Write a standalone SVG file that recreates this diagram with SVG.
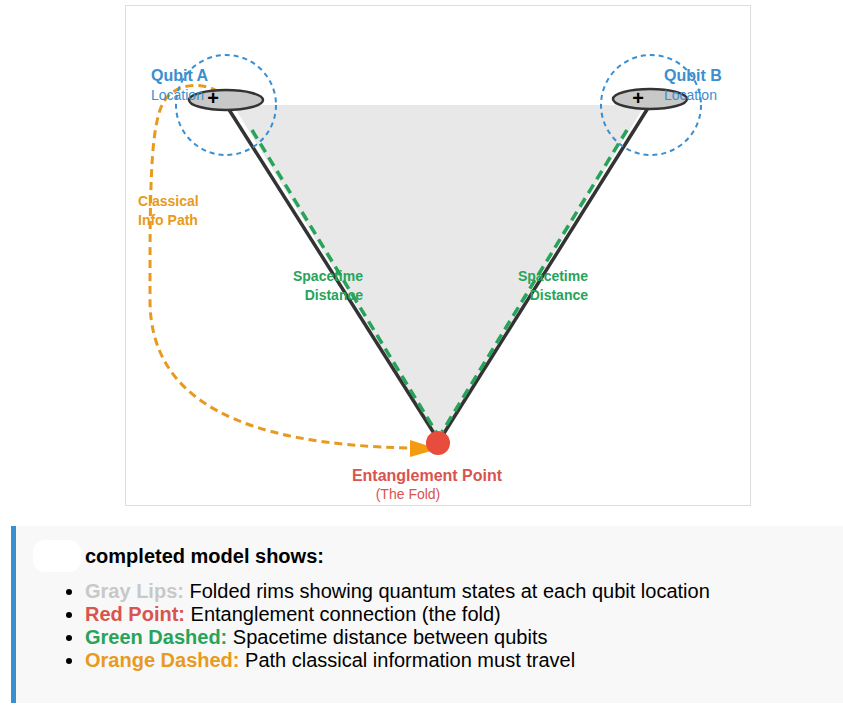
<svg xmlns="http://www.w3.org/2000/svg" width="843" height="724" viewBox="0 0 843 724">
<style>
text{font-family:"Liberation Sans",Arial,sans-serif}
.blue{fill:#3a8fd0}.or{fill:#e89a20;font-weight:bold;font-size:14px}.gr{fill:#27a35a;font-weight:bold;font-size:14px}
.rim{fill:#c8c8c8;stroke:#333;stroke-width:2.5}
.ring{fill:none;stroke:#3a8fd0;stroke-width:2;stroke-dasharray:5,4}
.edge{stroke:#333;stroke-width:3.5;fill:none}
.gd{stroke:#27a35a;stroke-width:3.5;stroke-dasharray:10,6;fill:none}
.li{font-size:20px;fill:#000}
</style>
<rect x="0" y="0" width="843" height="724" fill="#fff"/>
<rect x="125.5" y="5.5" width="625" height="500" fill="#fff" stroke="#ddd"/>
<polygon points="233,105 645,105 439,440" fill="#e8e8e8"/>
<g id="connectors">
<line class="edge" x1="228" y1="108" x2="437" y2="438"/>
<line class="edge" x1="648" y1="108" x2="441" y2="438"/>
<line class="gd" x1="252" y1="130" x2="436" y2="432"/>
<line class="gd" x1="627" y1="130" x2="442" y2="432"/>
<path d="M218,92 C205,82 170,80 160,110 C150,140 150,200 150,300 C150,400 240,445 412,448" fill="none" stroke="#e89a20" stroke-width="3" stroke-dasharray="8,5"/>
<polygon points="410,440 438,449 410,457" fill="#f39c12"/>
</g>
<g id="qubitA">
<circle class="ring" cx="226" cy="105" r="50"/>
<ellipse class="rim" cx="226" cy="100" rx="37" ry="10"/>
<text x="213" y="105" font-size="20" font-weight="bold" text-anchor="middle">+</text>
<text class="blue" x="151" y="81" font-size="16" font-weight="bold">Qubit A</text>
<text class="blue" x="151" y="100" font-size="14">Location</text>
</g>
<g id="qubitB">
<circle class="ring" cx="651" cy="105" r="50"/>
<ellipse class="rim" cx="650" cy="99" rx="37" ry="10"/>
<text x="638" y="105" font-size="20" font-weight="bold" text-anchor="middle">+</text>
<text class="blue" x="664" y="81" font-size="16" font-weight="bold">Qubit B</text>
<text class="blue" x="664" y="100" font-size="14">Location</text>
</g>
<g id="labels">
<text class="or" x="138" y="206">Classical</text>
<text class="or" x="138" y="225">Info Path</text>
<text class="gr" x="363" y="281" text-anchor="end">Spacetime</text>
<text class="gr" x="363" y="300" text-anchor="end">Distance</text>
<text class="gr" x="588" y="281" text-anchor="end">Spacetime</text>
<text class="gr" x="588" y="300" text-anchor="end">Distance</text>
</g>
<g id="entanglement">
<circle cx="438" cy="443" r="12" fill="#e74c3c"/>
<text x="427" y="481" font-size="16" font-weight="bold" fill="#d9534f" text-anchor="middle">Entanglement Point</text>
<text x="408" y="499" font-size="14" fill="#d9534f" text-anchor="middle">(The Fold)</text>
</g>
<g id="legend">
<rect x="11" y="526" width="832" height="177" fill="#f8f8f8"/>
<rect x="11" y="526" width="5" height="177" fill="#3a8fd0"/>
<rect x="33" y="540" width="48" height="32" rx="12" fill="#fff"/>
<text x="85" y="563" font-size="20" font-weight="bold">completed model shows:</text>
<g class="li">
<circle cx="69" cy="592" r="3"/><circle cx="69" cy="615" r="3"/><circle cx="69" cy="638" r="3"/><circle cx="69" cy="661" r="3"/>
<text x="85" y="598"><tspan font-weight="bold" fill="#c8c8c8">Gray Lips:</tspan> Folded rims showing quantum states at each qubit location</text>
<text x="85" y="621"><tspan font-weight="bold" fill="#d9534f">Red Point:</tspan> Entanglement connection (the fold)</text>
<text x="85" y="644"><tspan font-weight="bold" fill="#27a35a">Green Dashed:</tspan> Spacetime distance between qubits</text>
<text x="85" y="667"><tspan font-weight="bold" fill="#e89a20">Orange Dashed:</tspan> Path classical information must travel</text>
</g>
</g>
</svg>
